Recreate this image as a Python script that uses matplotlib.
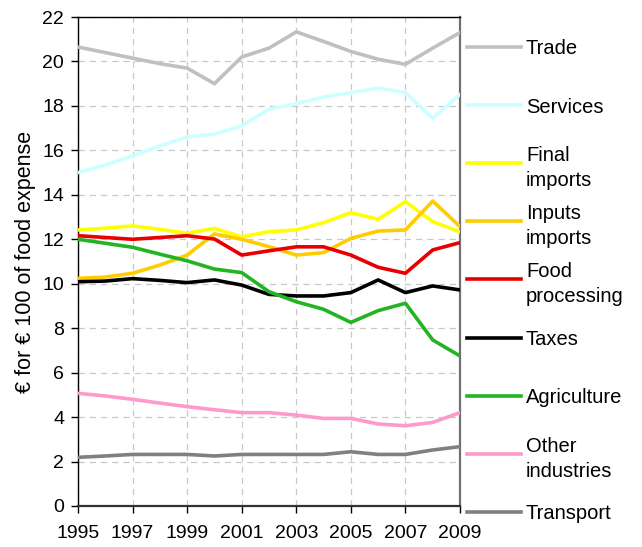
import matplotlib
matplotlib.use("Agg")
import matplotlib.pyplot as plt
from matplotlib.lines import Line2D

plt.rcParams['font.family'] = ['Liberation Sans', 'DejaVu Sans']

years = list(range(1995, 2010))

trade = [20.65, 20.4, 20.15, 19.9, 19.7, 19.0, 20.2, 20.6, 21.33, 20.9, 20.45, 20.1, 19.87, 20.6, 21.3]
services = [15.0, 15.34, 15.75, 16.2, 16.6, 16.73, 17.1, 17.85, 18.1, 18.4, 18.6, 18.8, 18.6, 17.44, 18.52]
final_imports = [12.42, 12.5, 12.6, 12.45, 12.27, 12.49, 12.11, 12.34, 12.42, 12.75, 13.2, 12.9, 13.69, 12.79, 12.34]
inputs_imports = [10.24, 10.3, 10.47, 10.84, 11.29, 12.24, 12.0, 11.67, 11.29, 11.4, 12.04, 12.37, 12.42, 13.72, 12.57]
food_processing = [12.16, 12.08, 12.0, 12.08, 12.16, 12.01, 11.29, 11.48, 11.66, 11.66, 11.29, 10.74, 10.47, 11.52, 11.85]
taxes = [10.09, 10.12, 10.23, 10.15, 10.05, 10.17, 9.94, 9.52, 9.45, 9.45, 9.6, 10.17, 9.6, 9.9, 9.72]
agriculture = [12.0, 11.82, 11.64, 11.33, 11.03, 10.66, 10.5, 9.64, 9.19, 8.85, 8.26, 8.79, 9.12, 7.47, 6.75]
other_industries = [5.07, 4.95, 4.8, 4.63, 4.47, 4.33, 4.2, 4.2, 4.09, 3.94, 3.94, 3.69, 3.61, 3.76, 4.2]
transport = [2.19, 2.25, 2.32, 2.32, 2.32, 2.25, 2.32, 2.32, 2.32, 2.32, 2.44, 2.32, 2.32, 2.52, 2.67]

series = [
    ("Trade", trade, "#C0C0C0"),
    ("Services", services, "#CCFFFF"),
    ("Final\nimports", final_imports, "#FFFF00"),
    ("Inputs\nimports", inputs_imports, "#FFCC00"),
    ("Food\nprocessing", food_processing, "#E80000"),
    ("Taxes", taxes, "#000000"),
    ("Agriculture", agriculture, "#22B422"),
    ("Other\nindustries", other_industries, "#FF99CC"),
    ("Transport", transport, "#808080"),
]

W, H = 642, 547
fig = plt.figure(figsize=(W / 100, H / 100), dpi=100)
left, right, top, bottom = 78, 460, 17, 506
ax = fig.add_axes([left / W, 1 - bottom / H, (right - left) / W, (bottom - top) / H])

for name, vals, col in series:
    ax.plot(years, vals, color=col, lw=2.6, solid_joinstyle='round', solid_capstyle='round', zorder=3)

ax.set_xlim(1995, 2009)
ax.set_ylim(0, 22)
ax.set_xticks(range(1995, 2010, 2))
ax.set_yticks(range(0, 23, 2))
ax.tick_params(axis='both', labelsize=14, length=5, width=1, direction='out', color='#000000')
ax.tick_params(axis='x', pad=8.5)
ax.tick_params(axis='y', pad=5)
ax.grid(True, color='#C8C8C8', linestyle=(0, (5, 4)), linewidth=0.9, zorder=0)
ax.set_axisbelow(True)
for s in ['left', 'top']:
    ax.spines[s].set_color('#000000')
    ax.spines[s].set_linewidth(1.0)
ax.spines['right'].set_color('#707070')
ax.spines['right'].set_linewidth(1.6)
ax.spines['bottom'].set_color('#333333')
ax.spines['bottom'].set_linewidth(1.6)

ax.set_ylabel("€ for € 100 of food expense", fontsize=15.5)
ax.yaxis.set_label_coords((36 - left) / (right - left), 0.5)

# legend on the right: evenly spaced rows, handle level with the first text line
span = right - left
hspan = bottom - top
row_top, row_step = 47, 58.1
for i, (name, vals, col) in enumerate(series):
    yp = row_top + i * row_step
    yf = (bottom - yp) / hspan
    ax.add_line(Line2D([(467 - left) / span, (521 - left) / span], [yf, yf],
                       transform=ax.transAxes, color=col, lw=2.6, clip_on=False))
    ax.text((526 - left) / span, yf, name, transform=ax.transAxes, fontsize=14.5,
            va='center_baseline', ha='left', linespacing=1.4)

fig.savefig("out.png", dpi=100)
